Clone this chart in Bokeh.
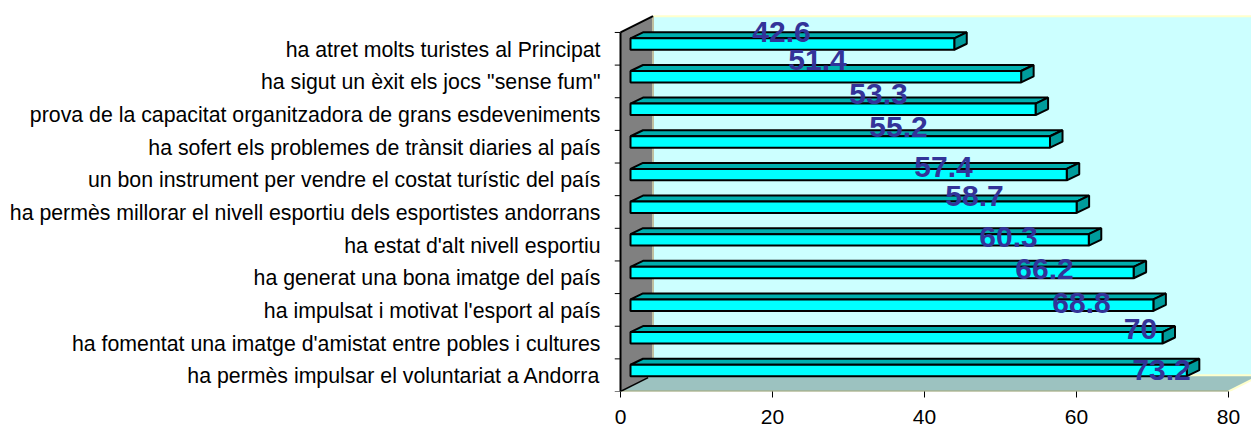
from bokeh.plotting import figure
from bokeh.models import Range1d, FixedTicker, LinearAxis, ColumnDataSource
from bokeh.embed import file_html
from bokeh.resources import INLINE
from bokeh.core.properties import value

categories = ["ha permès impulsar el voluntariat a Andorra",
              "ha fomentat una imatge d'amistat entre pobles i cultures",
              "ha impulsat i motivat l'esport al país",
              "ha generat una bona imatge del país",
              "ha estat d'alt nivell esportiu",
              "ha permès millorar el nivell esportiu dels esportistes andorrans",
              "un bon instrument per vendre el costat turístic del país",
              "ha sofert els problemes de trànsit diaries al país",
              "prova de la capacitat organitzadora de grans esdeveniments",
              "ha sigut un èxit els jocs \"sense fum\"",
              "ha atret molts turistes al Principat"]
values = [73.2, 70, 68.8, 66.2, 60.3, 58.7, 57.4, 55.2, 53.3, 51.4, 42.6]
value_labels = ["73.2", "70", "68.8", "66.2", "60.3", "58.7", "57.4", "55.2", "53.3", "51.4", "42.6"]
x_ticks = [0, 20, 40, 60, 80]

# hand-placed label positions of the original chart (pixel centres)
label_px_x = [1161, 1140, 1081, 1044, 1008, 974, 943, 898, 878, 817, 781]
label_px_y = [369, 328, 302, 268, 236, 195, 166, 126, 93, 59, 31]

W, H = 1251, 430
X0_PX, Y0_PX = 620, 391
LEFT_PX = 614
PX_X = 7.6        # pixels per value unit
PX_Y = 32.64      # pixels per category
n = len(categories)
x_start = (LEFT_PX - X0_PX) / PX_X
x_end = (W - X0_PX) / PX_X
y_end = Y0_PX / PX_Y

p = figure(width=W, height=H, output_backend="svg", toolbar_location=None,
           x_range=Range1d(x_start, x_end), y_range=Range1d(0, y_end),
           min_border_left=LEFT_PX, min_border_right=0, min_border_top=0, min_border_bottom=H - Y0_PX,
           x_axis_location=None, y_axis_location=None, outline_line_color=None,
           margin=(0, 0, 0, 0))
p.grid.visible = False
p.background_fill_color = "white"
p.border_fill_color = "white"

dx = 32.5 / PX_X
dy = 16.3 / PX_Y
top_y = n + 0.0

# back wall, floor, side wall
p.patch([dx, x_end + 10, x_end + 10, dx], [dy, dy, top_y + dy - 0.0, top_y + dy],
        fill_color="#CCFFFF", line_color=None)
p.line([dx, x_end + 10], [top_y + dy, top_y + dy], line_color="#FFFFCC", line_width=2)
p.patch([0, 80, 80 + dx, dx], [0, 0, dy, dy], fill_color="#9CC2C0", line_color=None)
p.line([dx, x_end + 10], [dy, dy], line_color="#FFFFCC", line_width=2)
p.line([80, 80 + dx], [0, dy], line_color="#FFFFCC", line_width=2)
p.line([0, 80], [0, 0], line_color="#A8A878", line_width=2)
p.patch([0, dx, dx, 0], [0, dy, top_y + dy, top_y], fill_color="#808080", line_color=None)
p.line([dx, dx], [dy, top_y + dy], line_color="#C0C0A0", line_width=2)
p.line([0, dx], [top_y, top_y + dy], line_color="black", line_width=2)
p.line([0, dx * 0.85], [0, dy * 0.85], line_color="black", line_width=1.5)

# left axis line and ticks
p.line([0, 0], [0, n], line_color="black", line_width=2)
p.segment([x_start] * (n + 1), list(range(n + 1)), [0] * (n + 1), list(range(n + 1)),
          line_color="black", line_width=1)

# 3D bars
bx0 = 10 / PX_X
ddx = 12.5 / PX_X
ddy = 6 / PX_Y
b_lo, b_hi = 0.47, 0.82
front_x, front_y, top_xs, top_ys, side_xs, side_ys = [], [], [], [], [], []
for i, v in enumerate(values):
    x1 = bx0 + v
    lo, hi = i + b_lo, i + b_hi
    front_x.append([bx0, x1, x1, bx0]); front_y.append([lo, lo, hi, hi])
    top_xs.append([bx0, x1, x1 + ddx, bx0 + ddx]); top_ys.append([hi, hi, hi + ddy, hi + ddy])
    side_xs.append([x1, x1 + ddx, x1 + ddx, x1]); side_ys.append([lo, lo + ddy, hi + ddy, hi])
p.patches(top_xs, top_ys, fill_color="#00AFAF", line_color="black", line_width=2)
p.patches(side_xs, side_ys, fill_color="#009C9C", line_color="black", line_width=2)
p.patches(front_x, front_y, fill_color="#00FFFF", line_color="black", line_width=2)

# value labels
src = ColumnDataSource(dict(x=[(px - X0_PX) / PX_X for px in label_px_x],
                            y=[(Y0_PX - py) / PX_Y for py in label_px_y],
                            t=value_labels))
p.text("x", "y", text="t", source=src, text_align="center", text_baseline="middle",
       text_font=value("Liberation Sans"), text_font_style="bold",
       text_font_size="30px", text_color="#333399")

# axes
xa = LinearAxis(ticker=FixedTicker(ticks=x_ticks), bounds=(0, 80))
xa.axis_line_color = None
xa.major_tick_line_color = "black"
xa.major_tick_out = 6
xa.major_tick_in = 0
xa.minor_tick_line_color = None
xa.major_label_text_font = "Liberation Sans"
xa.major_label_text_font_size = "21px"
xa.major_label_text_color = "black"
xa.major_label_standoff = 12
p.add_layout(xa, "below")

cat_ticks = [i + 0.47 for i in range(n)]
yl = LinearAxis(ticker=FixedTicker(ticks=cat_ticks), bounds=(0, n),
                major_label_overrides={t: c for t, c in zip(cat_ticks, categories)})
yl.axis_line_color = None
yl.major_tick_line_color = None
yl.minor_tick_line_color = None
yl.major_label_text_font = "Liberation Sans"
yl.major_label_text_font_size = "21.3px"
yl.major_label_text_color = "black"
yl.major_label_standoff = 8
p.add_layout(yl, "left")

open("out.html", "w").write(file_html(p, INLINE))
